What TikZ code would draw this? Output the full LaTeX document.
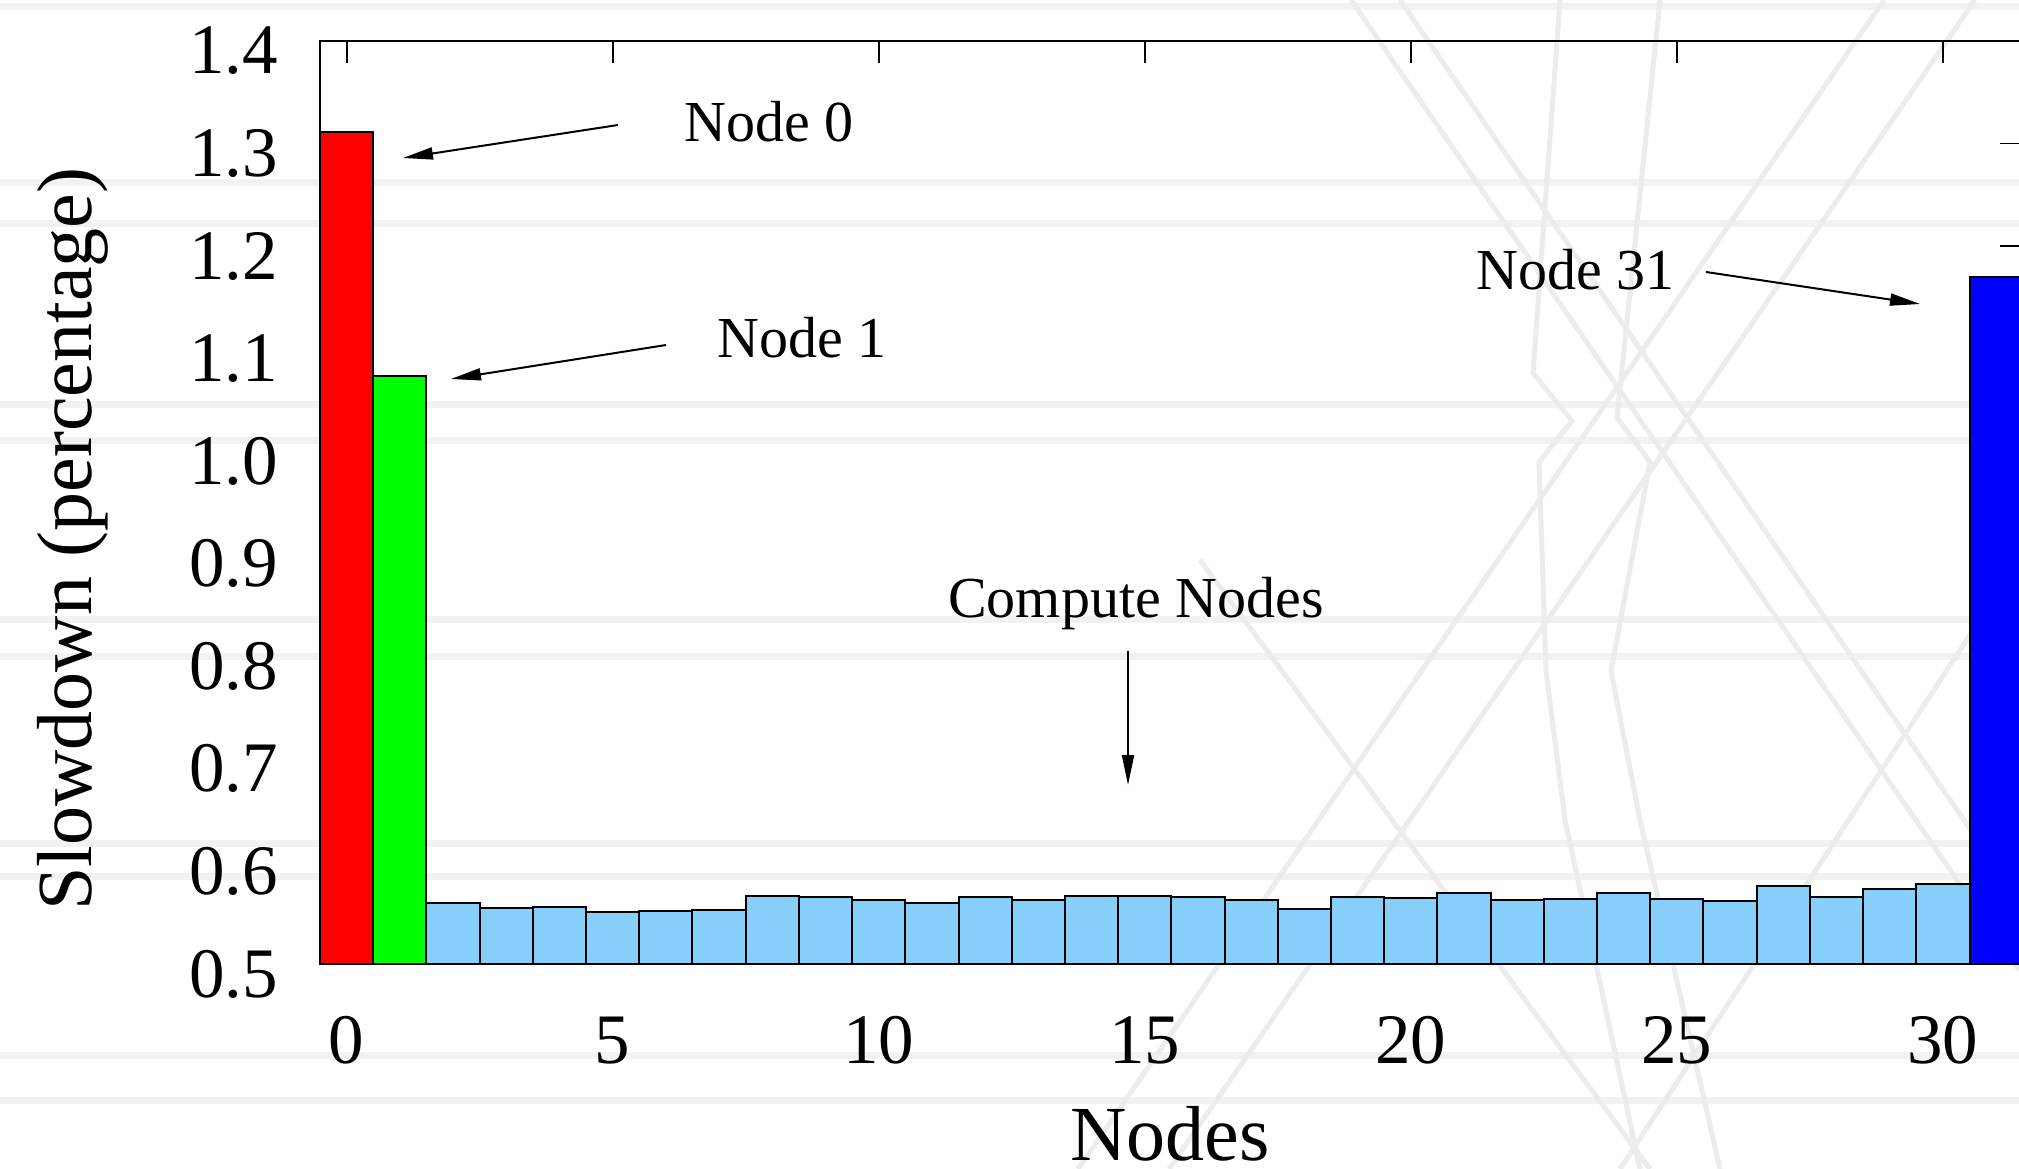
\documentclass[tikz,border=0pt]{standalone}
\usepackage{fontspec}
\setmainfont{Liberation Serif}
\usetikzlibrary{arrows.meta}
\definecolor{barred}{RGB}{255,0,0}
\definecolor{bargreen}{RGB}{0,255,0}
\definecolor{barblue}{RGB}{0,0,255}
\definecolor{barsky}{RGB}{135,206,250}
\definecolor{bandgray}{RGB}{242,242,242}
\definecolor{wmgray}{RGB}{236,236,236}
\begin{document}
\begin{tikzpicture}[x=1pt,y=-1pt,
  barbox/.style={draw=black,line width=2pt},
  tickmark/.style={line width=1.8pt},
  framebox/.style={line width=2.4pt},
  ytick/.style={anchor=base east,font=\fontsize{71}{71}\selectfont,inner sep=0pt},
  xtick/.style={anchor=base,font=\fontsize{71}{71}\selectfont,inner sep=0pt},
  axtitle/.style={anchor=base,font=\fontsize{78}{78}\selectfont,inner sep=0pt},
  note/.style={anchor=base west,font=\fontsize{58}{58}\selectfont,inner sep=0pt},
  arr/.style={line width=2pt,-{Triangle[length=30pt,width=12pt]}},
  band/.style={draw=bandgray,line width=7pt},
  wm/.style={draw=wmgray,line width=5pt}]
\useasboundingbox (0,0) rectangle (2019,1169);
\clip (0,0) rectangle (2019,1169);
\fill[white] (0,0) rectangle (2019,1169);
% background bands
\foreach \yy in {7,183,224,404,440,619,656,843,876,1055,1100}
  \draw[band] (0,\yy) -- (2019,\yy);
% watermark (approximate)
\draw[wm] (1351,0) -- (2019,970);
\draw[wm] (1400,0) -- (2019,900);
\draw[wm] (1975,0) -- (1169,1169);
\draw[wm] (1884,0) -- (1078,1169);
\draw[wm] (1200,560) -- (1650,1169);
\draw[wm] (2019,560) -- (1620,1169);
\draw[wm] (1560,0) -- (1533,373) -- (1572,421) -- (1539,462) -- (1546,671) -- (1565,820) -- (1640,1169);
\draw[wm] (1660,0) -- (1617,418) -- (1650,462) -- (1611,671) -- (1640,820) -- (1720,1169);
% hidden ticks on left and bottom
\foreach \k in {0,...,9}
  \draw[tickmark] (320,{41+102.56*\k}) -- (342,{41+102.56*\k});
% bars
\fill[barred] (320,131.7) rectangle (373.2,964);
\draw[barbox] (320,131.7) rectangle (373.2,964);
\fill[bargreen] (373.2,376) rectangle (426.4,964);
\draw[barbox] (373.2,376) rectangle (426.4,964);
\foreach \i/\t in {2/903.3,3/907.7,4/907,5/912,6/910.7,7/910,8/896,9/896.7,10/900,11/903.3,12/896.7,13/899.7,14/896,15/896,16/896.7,17/900,18/908.7,19/896.7,20/898,21/892.7,22/900,23/899,24/893,25/899,26/900.7,27/886,28/897.3,29/889.3,30/884}
  \draw[barbox,fill=barsky] ({320+53.21*\i},\t) rectangle ({320+53.21*(\i+1)},964);
\fill[barblue] (1969.6,277) rectangle (2022.8,964);
\draw[barbox] (1969.6,277) rectangle (2022.8,964);
% frame
\draw[framebox] (320,41) rectangle (2023,964);
% top ticks
\foreach \k in {0,...,6}
  \draw[tickmark] ({346.6+266.05*\k},41) -- ({346.6+266.05*\k},63);
% right ticks
\draw[tickmark] (2000,143.5) -- (2023,143.5);
\draw[tickmark] (2000,246) -- (2023,246);
% y tick labels
\foreach \lab [count=\k from 0] in {1.4,1.3,1.2,1.1,1.0,0.9,0.8,0.7,0.6,0.5}
  \node[ytick] (yl\k) at (278,{74+102.56*\k}) {\lab};
% x tick labels
\foreach \lab [count=\k from 0] in {0,5,10,15,20,25,30}
  \node[xtick] (xl\k) at ({346.6+266.05*\k},1063) {\lab};
% axis titles
\node[axtitle,rotate=90] (ytitle) at (91,539) {Slowdown (percentage)};
\node[axtitle] (xtitle) at (1170,1160) {Nodes};
% annotations
\node[note] (n0) at (684,142) {Node 0};
\node[note] (n1) at (717,357) {Node 1};
\node[note] (n31) at (1476,289) {Node 31};
\node[note] (nc) at (948,617) {Compute Nodes};
\coordinate (a0s) at (618,125);
\coordinate (a0e) at (403,158);
\coordinate (a1s) at (666,345);
\coordinate (a1e) at (451,379);
\coordinate (a31s) at (1706,272);
\coordinate (a31e) at (1920,304);
\coordinate (acs) at (1128,651);
\coordinate (ace) at (1128,785);
\draw[arr] (a0s) -- (a0e);
\draw[arr] (a1s) -- (a1e);
\draw[arr] (a31s) -- (a31e);
\draw[arr] (acs) -- (ace);
\end{tikzpicture}
\end{document}
